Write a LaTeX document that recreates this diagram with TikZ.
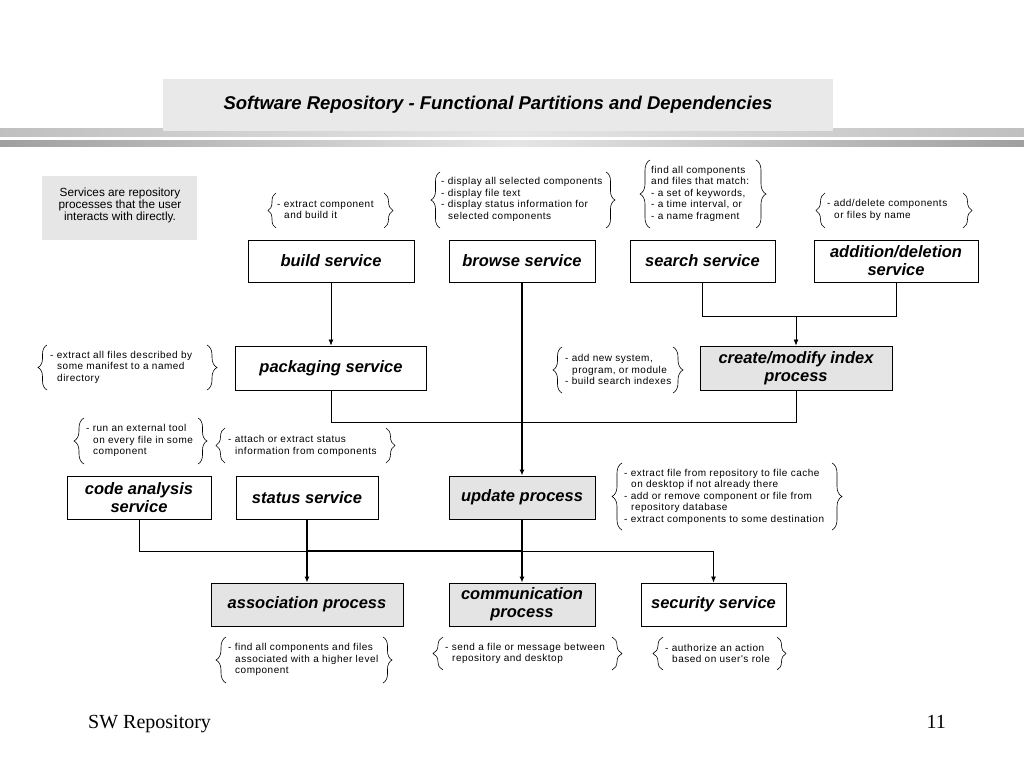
\documentclass[tikz,border=0pt]{standalone}
\usepackage{fontspec}
\setmainfont{Liberation Serif}
\setsansfont{Liberation Sans}
\newfontfamily\notefont[LetterSpace=5]{Liberation Sans}
\usetikzlibrary{arrows.meta,decorations.pathreplacing,calc}
\definecolor{notegray}{HTML}{E6E6E6}
\definecolor{boxgray}{HTML}{E4E4E4}
\definecolor{titlegray}{HTML}{E9E9E9}
\newcommand\ind{\hspace*{0.7em}}
\newcommand\mybraces[6]{%
  \draw[brc=#2] (#1,#6) -- (#1,#5);
  \draw[brc=#4] (#3,#5) -- (#3,#6);
}
\begin{document}
\begin{tikzpicture}[x=1pt,y=-1pt,
  box/.style={draw=black, line width=0.9pt, fill=white, inner sep=1pt, align=center,
    font=\sffamily\bfseries\itshape\fontsize{16.5}{18}\selectfont},
  gbox/.style={box, fill=boxgray},
  note/.style={anchor=west, inner sep=0pt, align=left,
    font=\notefont\fontsize{10}{11.5}\selectfont},
  brc/.style={decorate, decoration={brace, amplitude=#1}, line width=0.6pt},
  brc/.default=9pt,
  link/.style={line width=0.8pt},
  tlink/.style={line width=1.5pt},
  arr/.style={-{Latex[length=6pt,width=5pt]}},
]
\useasboundingbox (0,0) rectangle (1024,768);
% header bars
\shade[left color=gray!50, right color=gray!50, middle color=gray!20] (0,128) rectangle (1024,136);
\shade[left color=gray!75, right color=gray!75, middle color=gray!20] (0,140) rectangle (1024,146);
\node[fill=titlegray, minimum width=670, minimum height=52, inner sep=0pt,
  font=\sffamily\bfseries\itshape\fontsize{18.5}{20}\selectfont] (title) at (498,105)
  {Software Repository - Functional Partitions and Dependencies};
% services note
\fill[notegray] (42,176) rectangle (197,240);
\node[align=center, inner sep=0pt, font=\sffamily\fontsize{11.8}{12}\selectfont] (svc) at (120,205)
  {Services are repository\\processes that the user\\interacts with directly.};
% row 1
\node[box, minimum width=166, minimum height=42] (build) at (331,261) {build service};
\node[box, minimum width=146, minimum height=42] (browse) at (522,261) {browse service};
\node[box, minimum width=145, minimum height=42] (search) at (702.5,261) {search service};
\node[box, minimum width=164, minimum height=42] (add) at (896,261) {addition/deletion\\service};
% row 2
\node[box, minimum width=191, minimum height=44] (pack) at (331,368) {packaging service};
\node[gbox, minimum width=192, minimum height=44] (create) at (796,368) {create/modify index\\process};
% row 3
\node[box, minimum width=144, minimum height=43] (code) at (139,497.5) {code analysis\\service};
\node[box, minimum width=142, minimum height=43] (status) at (307,497.5) {status service};
\node[gbox, minimum width=146, minimum height=43] (update) at (522,497.5) {update process};
% row 4
\node[gbox, minimum width=192, minimum height=43] (assoc) at (307,604.5) {association process};
\node[gbox, minimum width=146, minimum height=43] (comm) at (522,604.5) {communication\\process};
\node[box, minimum width=145, minimum height=43] (sec) at (713.5,604.5) {security service};
% connectors
\coordinate (j1) at (796,316);
\coordinate (k1) at (796,422);
\coordinate (m1) at (713.5,551);
\draw[link,arr] (build.south) -- (pack.north);
\draw[tlink,arr] (browse.south) -- (update.north);
\draw[link] (search.south) |- (j1);
\draw[link] (add.south) |- (j1);
\draw[link,arr] (j1) -- (create.north);
\draw[link] (pack.south) |- (k1) -- (create.south);
\draw[link,arr] (code.south) |- (m1) -- (sec.north);
\draw[tlink] (update.south) |- (assoc.north |- m1);
\draw[tlink,arr] (status.south) -- (assoc.north);
\draw[tlink,arr] (update.south) -- (comm.north);
% notes
\node[note] (n1) at (277,210) {- extract component\\\ind and build it};
\mybraces{276}{8pt}{384}{9pt}{193}{228}
\node[note] (n2) at (441,199.5) {- display\ all selected components\\- display\ file text\\- display\ status information for\\\ind selected components};
\mybraces{440}{9pt}{606}{9pt}{172}{228}
\node[note] (n3) at (651,193.5) {find all components\\and files that match:\\- a set of keywords,\\- a\ time interval, or\\- a name fragment};
\mybraces{650}{10pt}{756}{10pt}{160}{228}
\node[note] (n4) at (827,210) {- add/delete components\\\ind or files by\ name};
\mybraces{825}{9pt}{963}{9pt}{193}{228}
\node[note] (n5) at (50,367) {- extract all files described by\\\ind some manifest to a named\\\ind directory};
\mybraces{47}{9pt}{207}{10pt}{345}{390}
\node[note] (n6) at (565,369.5) {- add new system,\\\ind program, or module\\- build search indexes};
\mybraces{562}{9pt}{673}{10pt}{347}{393}
\node[note] (n7) at (86,440.5) {- run an external tool\\\ind on every file in some\\\ind component};
\mybraces{84}{10pt}{198}{9pt}{418}{464}
\node[note] (n8) at (228,446) {- attach or extract status\\\ind information from components};
\mybraces{225}{9pt}{386}{9pt}{428}{463}
\node[note] (n9) at (624,496.5) {- extract file from repository to file cache\\\ind on desktop if\ not already there\\- add or remove component or file from\\\ind repository\ database\\- extract components to some destination};
\mybraces{622}{10pt}{832}{10pt}{463}{530}
\node[note] (n10) at (228,659.5) {- find all components and files\\\ind associated with a higher level\\\ind component};
\mybraces{226}{10pt}{383}{9pt}{637}{683}
\node[note] (n11) at (445,653.5) {- send a file or message between\\\ind repository\ and desktop};
\mybraces{443}{10pt}{612}{10pt}{637}{670}
\node[note] (n12) at (665,653.5) {- authorize an action\\\ind based on user's role};
\mybraces{663}{10pt}{777}{9pt}{637}{670}
% footer
\node[anchor=base west, inner sep=0pt, font=\fontsize{20}{22}\selectfont] (foot) at (88,728) {SW Repository};
\node[anchor=base east, inner sep=0pt, font=\fontsize{20}{22}\selectfont] (page) at (946,728) {11};
\end{tikzpicture}
\end{document}
